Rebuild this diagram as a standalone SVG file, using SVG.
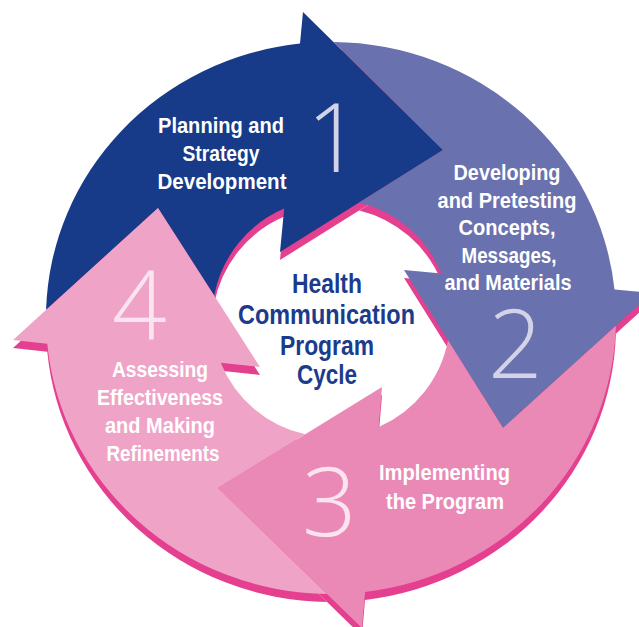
<svg xmlns="http://www.w3.org/2000/svg" xmlns:xlink="http://www.w3.org/1999/xlink" width="639" height="627" viewBox="0 0 639 627">
<style>
.lbl{font-family:"Liberation Sans",Arial,sans-serif;font-weight:bold;font-size:21.5px;fill:#ffffff;text-anchor:middle}
.ctr{font-family:"Liberation Sans",Arial,sans-serif;font-weight:bold;font-size:27px;fill:#1b3b8c;text-anchor:middle}
.num{font-family:"Open Sans","Noto Sans",sans-serif;font-weight:300;font-size:96px;text-anchor:middle}
.n12{fill:#d2d3e8}
.n34{fill:#fbe4f0}
</style>
<defs>
<path id="s1" d="M46.1,309.8 L158,208 L214.2,295.5 A119,119 0 0 1 284.2,208.6 L280,252 L443,150 L303,12 L300,43.6 A285,276 0 0 0 46.1,309.8 Z"/>
<path id="s2" d="M333.5,42 L443,150 L359.3,202.4 A119,119 0 0 1 441.4,273.5 L404,270 L503,428 L652,293 L614.5,289.5 A285,276 0 0 0 333.5,42 Z"/>
<path id="s3" d="M615.9,325.7 L503,428 L448,340.2 A119,119 0 0 1 378.7,427 L382,387 L218,488 L362,628 L365,591.9 A285,276 0 0 0 615.9,325.7 Z"/>
<path id="s4" d="M327,594 L218,488 L305.3,434.2 A119,119 0 0 1 220.7,362.7 L260,367 L158,208 L13,340 L47.3,343.7 A285,276 0 0 0 327,594 Z"/>
</defs>
<g id="shadow" fill="#e4408f" transform="translate(0,8)">
<use xlink:href="#s1"/>
<use xlink:href="#s2"/>
<use xlink:href="#s3"/>
<use xlink:href="#s4"/>
</g>
<g id="node-1">
<use xlink:href="#s1" fill="#173b89"/>
<text class="num n12" x="334" y="172">1</text>
<text class="lbl" x="221" y="133" textLength="126" lengthAdjust="spacingAndGlyphs">Planning and</text>
<text class="lbl" x="221" y="161" textLength="77" lengthAdjust="spacingAndGlyphs">Strategy</text>
<text class="lbl" x="222" y="189" textLength="129" lengthAdjust="spacingAndGlyphs">Development</text>
</g>
<g id="node-2">
<use xlink:href="#s2" fill="#6971ae"/>
<text class="num n12" x="515.5" y="378">2</text>
<text class="lbl" x="507" y="180" textLength="107" lengthAdjust="spacingAndGlyphs">Developing</text>
<text class="lbl" x="507" y="208" textLength="139" lengthAdjust="spacingAndGlyphs">and Pretesting</text>
<text class="lbl" x="507" y="235" textLength="97" lengthAdjust="spacingAndGlyphs">Concepts,</text>
<text class="lbl" x="509" y="263" textLength="95" lengthAdjust="spacingAndGlyphs">Messages,</text>
<text class="lbl" x="508" y="290" textLength="127" lengthAdjust="spacingAndGlyphs">and Materials</text>
</g>
<g id="node-3">
<use xlink:href="#s3" fill="#eb89b6"/>
<text class="num n34" x="329.5" y="536">3</text>
<text class="lbl" x="444.5" y="480" textLength="131" lengthAdjust="spacingAndGlyphs">Implementing</text>
<text class="lbl" x="445" y="509" textLength="118" lengthAdjust="spacingAndGlyphs">the Program</text>
</g>
<g id="node-4">
<use xlink:href="#s4" fill="#efa4c7"/>
<text class="num n34" x="139.5" y="340">4</text>
<text class="lbl" x="160" y="377" textLength="96" lengthAdjust="spacingAndGlyphs">Assessing</text>
<text class="lbl" x="160" y="405" textLength="126" lengthAdjust="spacingAndGlyphs">Effectiveness</text>
<text class="lbl" x="160" y="433" textLength="110" lengthAdjust="spacingAndGlyphs">and Making</text>
<text class="lbl" x="163" y="461" textLength="113" lengthAdjust="spacingAndGlyphs">Refinements</text>
</g>
<g id="center">
<text class="ctr" x="327" y="293" textLength="70" lengthAdjust="spacingAndGlyphs">Health</text>
<text class="ctr" x="326.5" y="324" textLength="177" lengthAdjust="spacingAndGlyphs">Communication</text>
<text class="ctr" x="327" y="355" textLength="94" lengthAdjust="spacingAndGlyphs">Program</text>
<text class="ctr" x="327" y="384" textLength="60" lengthAdjust="spacingAndGlyphs">Cycle</text>
</g>
<g id="connectors"/>
</svg>
